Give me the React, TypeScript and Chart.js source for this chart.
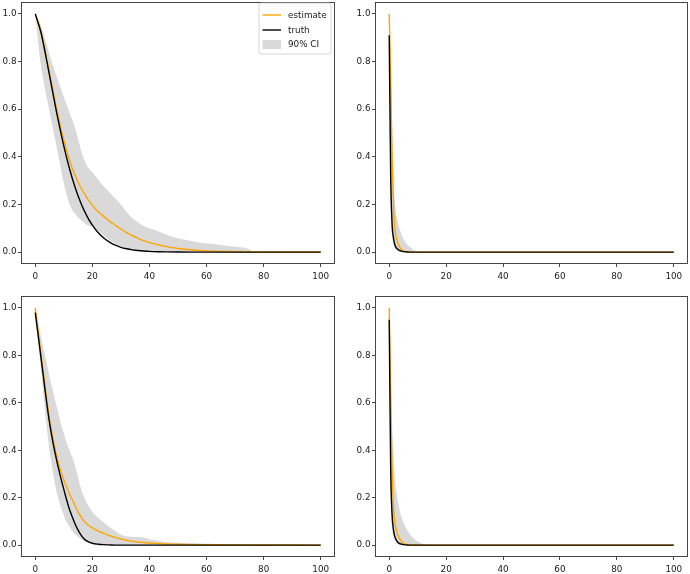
import React, { useEffect, useRef } from 'react';
import { Chart, registerables } from 'chart.js';

Chart.register(...registerables);

// ---------- data ----------
const X_TICKS = [0, 20, 40, 60, 80, 100];
const Y_TICKS = [0, 0.2, 0.4, 0.6, 0.8, 1.0];
const LEGEND_LABELS = ['estimate', 'truth', '90% CI'];

// top-left panel
const TL_X = [0, 2, 4, 6, 8, 10, 12, 14, 16, 18, 20, 22, 24, 26, 28, 30, 32, 34, 36, 38, 40, 43, 46, 50, 55, 60, 65, 70, 74, 76, 78, 80, 90, 100];
const TL_TRUTH = [1.0, 0.922, 0.804, 0.678, 0.555, 0.445, 0.35, 0.27, 0.205, 0.153, 0.113, 0.082, 0.059, 0.042, 0.029, 0.02, 0.014, 0.0095, 0.0064, 0.0043, 0.0028, 0.0015, 0.0008, 0.0003, 0, 0, 0, 0, 0, 0, 0, 0, 0, 0];
const TL_EST = [1.0, 0.925, 0.81, 0.69, 0.57, 0.47, 0.385, 0.32, 0.27, 0.23, 0.196, 0.17, 0.15, 0.13, 0.113, 0.097, 0.082, 0.069, 0.058, 0.048, 0.04, 0.031, 0.023, 0.015, 0.009, 0.005, 0.003, 0.002, 0.001, 0.001, 0.0008, 0.0005, 0.0002, 0.0001];
const TL_UPPER = [1.0, 0.95, 0.87, 0.79, 0.72, 0.65, 0.585, 0.52, 0.43, 0.365, 0.335, 0.305, 0.275, 0.25, 0.225, 0.2, 0.168, 0.142, 0.125, 0.11, 0.1, 0.087, 0.073, 0.058, 0.046, 0.037, 0.03, 0.022, 0.016, 0.005, 0.001, 0, 0, 0];
const TL_LOWER = [1.0, 0.78, 0.65, 0.53, 0.41, 0.29, 0.2, 0.16, 0.135, 0.115, 0.105, 0.09, 0.07, 0.05, 0.035, 0.024, 0.014, 0.009, 0.006, 0.004, 0.002, 0.001, 0, 0, 0, 0, 0, 0, 0, 0, 0, 0, 0, 0];

// top-right panel
const TR_X = [0, 0.5, 1, 1.5, 2, 3, 4, 5, 6, 7, 8, 9, 10, 11, 12, 100];
const TR_TRUTH = [0.91, 0.33, 0.12, 0.06, 0.03, 0.012, 0.005, 0.002, 0.001, 0, 0, 0, 0, 0, 0, 0];
const TR_EST = [1.0, 0.72, 0.4, 0.2, 0.1, 0.04, 0.015, 0.005, 0.002, 0.0007, 0, 0, 0, 0, 0, 0];
const TR_UPPER = [1.0, 0.82, 0.55, 0.33, 0.21, 0.13, 0.085, 0.055, 0.037, 0.024, 0.014, 0.007, 0.003, 0.001, 0, 0];
const TR_LOWER = [0.9, 0.22, 0.07, 0.03, 0.015, 0.005, 0.002, 0.001, 0, 0, 0, 0, 0, 0, 0, 0];

// bottom-left panel
const BL_X = [0, 1, 2, 3, 4, 5, 6, 7, 8, 9, 10, 11, 12, 13, 14, 15, 16, 17, 18, 20, 22, 24, 26, 28, 30, 33, 36, 38, 40, 43, 46, 50, 58, 65, 75, 80, 85, 100];
const BL_TRUTH = [0.98, 0.885, 0.79, 0.695, 0.6, 0.515, 0.445, 0.385, 0.33, 0.28, 0.235, 0.19, 0.15, 0.118, 0.088, 0.063, 0.043, 0.028, 0.018, 0.008, 0.004, 0.002, 0.001, 0, 0, 0, 0, 0, 0, 0, 0, 0, 0, 0, 0, 0, 0, 0];
const BL_EST = [1.0, 0.9, 0.805, 0.71, 0.615, 0.53, 0.46, 0.4, 0.35, 0.31, 0.275, 0.245, 0.215, 0.19, 0.165, 0.14, 0.12, 0.103, 0.09, 0.073, 0.06, 0.05, 0.04, 0.033, 0.026, 0.018, 0.013, 0.011, 0.009, 0.007, 0.005, 0.004, 0.002, 0.0015, 0.001, 0.0005, 0.0003, 0];
const BL_UPPER = [1.0, 0.94, 0.88, 0.82, 0.77, 0.71, 0.66, 0.61, 0.56, 0.51, 0.47, 0.43, 0.4, 0.37, 0.33, 0.285, 0.24, 0.205, 0.18, 0.14, 0.115, 0.095, 0.075, 0.06, 0.045, 0.035, 0.034, 0.032, 0.025, 0.018, 0.012, 0.01, 0.007, 0.005, 0.003, 0.001, 0, 0];
const BL_LOWER = [0.98, 0.86, 0.74, 0.62, 0.5, 0.4, 0.32, 0.25, 0.2, 0.16, 0.125, 0.097, 0.076, 0.06, 0.046, 0.035, 0.025, 0.017, 0.011, 0.005, 0.002, 0.001, 0, 0, 0, 0, 0, 0, 0, 0, 0, 0, 0, 0, 0, 0, 0, 0];

// bottom-right panel
const BR_X = [0, 0.5, 1, 1.5, 2, 3, 4, 5, 6, 7, 8, 9, 10, 11, 12, 13, 14, 15, 100];
const BR_TRUTH = [0.95, 0.33, 0.13, 0.065, 0.035, 0.012, 0.005, 0.002, 0.001, 0, 0, 0, 0, 0, 0, 0, 0, 0, 0];
const BR_EST = [1.0, 0.62, 0.32, 0.16, 0.095, 0.045, 0.02, 0.008, 0.004, 0.002, 0.001, 0.0005, 0, 0, 0, 0, 0, 0, 0];
const BR_UPPER = [1.0, 0.78, 0.52, 0.37, 0.28, 0.19, 0.13, 0.095, 0.07, 0.05, 0.036, 0.024, 0.015, 0.009, 0.005, 0.003, 0.001, 0, 0];
const BR_LOWER = [0.92, 0.25, 0.07, 0.035, 0.018, 0.006, 0.002, 0.001, 0, 0, 0, 0, 0, 0, 0, 0, 0, 0, 0];

// ---------- layout / style ----------
const FONT = { family: 'DejaVu Sans', size: 8.8 };
const TEXT_COLOR = '#1a1a1a';
const ORANGE = '#ffa500';
const CI_FILL = 'rgba(128,128,128,0.3)';

type PanelData = { x: number[]; truth: number[]; est: number[]; upper: number[]; lower: number[] };
type PanelLayout = { left: number; top: number; w: number; h: number; padL: number; padR: number; padT: number; yW: number; xH: number; legend: boolean };

const PANELS: { data: PanelData; layout: PanelLayout }[] = [
  { data: { x: TL_X, truth: TL_TRUTH, est: TL_EST, upper: TL_UPPER, lower: TL_LOWER },
    layout: { left: 0, top: 0, w: 345, h: 287, padL: 0, padR: 10, padT: 2, yW: 21, xH: 23, legend: true } },
  { data: { x: TR_X, truth: TR_TRUTH, est: TR_EST, upper: TR_UPPER, lower: TR_LOWER },
    layout: { left: 345, top: 0, w: 345, h: 287, padL: 0, padR: 2, padT: 2, yW: 30, xH: 23, legend: false } },
  { data: { x: BL_X, truth: BL_TRUTH, est: BL_EST, upper: BL_UPPER, lower: BL_LOWER },
    layout: { left: 0, top: 287, w: 345, h: 287, padL: 0, padR: 10, padT: 9, yW: 21, xH: 17, legend: false } },
  { data: { x: BR_X, truth: BR_TRUTH, est: BR_EST, upper: BR_UPPER, lower: BR_LOWER },
    layout: { left: 345, top: 287, w: 345, h: 287, padL: 0, padR: 2, padT: 9, yW: 30, xH: 17, legend: false } },
];

const framePlugin = {
  id: 'mplFrame',
  afterDraw(chart: any) {
    const { ctx, chartArea: a } = chart;
    ctx.save();
    ctx.strokeStyle = '#333';
    ctx.lineWidth = 0.9;
    ctx.strokeRect(Math.round(a.left) + 0.5, Math.round(a.top) + 0.5, Math.round(a.right - a.left) - 1, Math.round(a.bottom - a.top) - 1);
    ctx.restore();
  },
};

const legendPlugin = {
  id: 'mplLegend',
  afterDraw(chart: any, _args: any, opts: any) {
    if (!opts || !opts.show) return;
    const { ctx, chartArea: a } = chart;
    const ds = chart.data.datasets;
    const items = [
      { label: ds[1].label, kind: 'line', color: ds[1].borderColor },
      { label: ds[0].label, kind: 'line', color: ds[0].borderColor },
      { label: ds[2].label, kind: 'box', color: ds[2].backgroundColor },
    ];
    const bw = 72, bh = 51;
    const x0 = a.right - 4 - bw;
    const y0 = a.top + 1;
    ctx.save();
    ctx.beginPath();
    const r = 2.5;
    ctx.moveTo(x0 + r, y0);
    ctx.lineTo(x0 + bw - r, y0);
    ctx.arcTo(x0 + bw, y0, x0 + bw, y0 + r, r);
    ctx.lineTo(x0 + bw, y0 + bh - r);
    ctx.arcTo(x0 + bw, y0 + bh, x0 + bw - r, y0 + bh, r);
    ctx.lineTo(x0 + r, y0 + bh);
    ctx.arcTo(x0, y0 + bh, x0, y0 + bh - r, r);
    ctx.lineTo(x0, y0 + r);
    ctx.arcTo(x0, y0, x0 + r, y0, r);
    ctx.closePath();
    ctx.fillStyle = 'rgba(255,255,255,0.8)';
    ctx.fill();
    ctx.strokeStyle = '#cccccc';
    ctx.lineWidth = 0.8;
    ctx.stroke();
    ctx.font = `${FONT.size}px ${FONT.family}`;
    ctx.textBaseline = 'middle';
    ctx.textAlign = 'left';
    const rows = [12, 27, 41.5];
    items.forEach((it, i) => {
      const cy = y0 + rows[i];
      if (it.kind === 'line') {
        ctx.strokeStyle = it.color;
        ctx.lineWidth = 1.4;
        ctx.beginPath();
        ctx.moveTo(x0 + 3.5, cy);
        ctx.lineTo(x0 + 22, cy);
        ctx.stroke();
      } else {
        ctx.fillStyle = it.color;
        ctx.fillRect(x0 + 3.5, cy - 4.5, 18.5, 9);
      }
      ctx.fillStyle = TEXT_COLOR;
      ctx.fillText(it.label, x0 + 29, cy + 0.5);
    });
    ctx.restore();
  },
};

function pts(x: number[], y: number[]) {
  return x.map((v, i) => ({ x: v, y: y[i] }));
}

function makeConfig(d: PanelData, l: PanelLayout): any {
  const tickGrid = { display: true, drawOnChartArea: false, drawTicks: true, tickLength: 3, color: '#333', lineWidth: 0.9 };
  return {
    type: 'line',
    data: {
      datasets: [
        { label: LEGEND_LABELS[1], data: pts(d.x, d.truth), borderColor: '#000', borderWidth: 1.4, pointRadius: 0, fill: false, cubicInterpolationMode: 'monotone' },
        { label: LEGEND_LABELS[0], data: pts(d.x, d.est), borderColor: ORANGE, borderWidth: 1.4, pointRadius: 0, fill: false, cubicInterpolationMode: 'monotone' },
        { label: LEGEND_LABELS[2], data: pts(d.x, d.upper), borderWidth: 0, borderColor: 'rgba(0,0,0,0)', backgroundColor: CI_FILL, pointRadius: 0, fill: '+1', cubicInterpolationMode: 'monotone' },
        { label: '', data: pts(d.x, d.lower), borderWidth: 0, borderColor: 'rgba(0,0,0,0)', backgroundColor: CI_FILL, pointRadius: 0, fill: false, cubicInterpolationMode: 'monotone' },
      ],
    },
    options: {
      animation: false,
      responsive: false,
      events: [],
      layout: { autoPadding: false, padding: { left: l.padL, right: l.padR, top: l.padT, bottom: 0 } },
      plugins: { legend: { display: false }, tooltip: { enabled: false }, mplLegend: { show: l.legend } },
      scales: {
        x: {
          type: 'linear', min: -5, max: 105,
          grid: tickGrid, border: { display: false },
          afterBuildTicks: (s: any) => { s.ticks = X_TICKS.map((v) => ({ value: v })); },
          afterFit: (s: any) => { s.height = l.xH; s.paddingLeft = 0; s.paddingRight = 0; },
          ticks: { autoSkip: false, maxRotation: 0, padding: 4, color: TEXT_COLOR, font: FONT, callback: (v: number) => String(v) },
        },
        y: {
          type: 'linear', min: -0.05, max: 1.05,
          grid: tickGrid, border: { display: false },
          afterBuildTicks: (s: any) => { s.ticks = Y_TICKS.map((v) => ({ value: v })); },
          afterFit: (s: any) => { s.width = l.yW; s.paddingTop = 0; s.paddingBottom = 0; },
          ticks: { autoSkip: false, padding: 1.5, color: TEXT_COLOR, font: FONT, callback: (v: number) => Number(v).toFixed(1) },
        },
      },
    },
    plugins: [framePlugin, legendPlugin],
  };
}

export default function App() {
  const refs = useRef<(HTMLCanvasElement | null)[]>([]);
  useEffect(() => {
    const charts = PANELS.map((p, i) => new Chart(refs.current[i] as HTMLCanvasElement, makeConfig(p.data, p.layout)));
    return () => charts.forEach((c) => c.destroy());
  }, []);
  return (
    <div style={{ position: 'absolute', left: 0, top: 0, width: 690, height: 574, background: '#fff', overflow: 'hidden' }}>
      {PANELS.map((p, i) => (
        <canvas
          key={i}
          ref={(el) => { refs.current[i] = el; }}
          width={p.layout.w}
          height={p.layout.h}
          style={{ position: 'absolute', left: p.layout.left, top: p.layout.top, width: p.layout.w, height: p.layout.h }}
        />
      ))}
    </div>
  );
}
